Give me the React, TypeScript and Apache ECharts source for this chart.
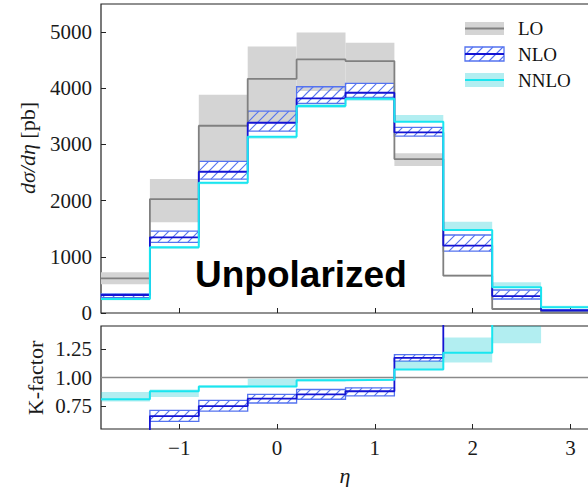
import React, { useEffect, useRef } from "react";
import * as echarts from "echarts";

// Bin edges in pseudorapidity
const binEdges = [-1.8, -1.3, -0.8, -0.3, 0.2, 0.7, 1.2, 1.7, 2.2, 2.7, 3.2];

// dσ/dη [pb] per bin: central value and scale band
const loCentral = [617, 2028, 3333, 4169, 4514, 4484, 2740, 664, 71, 12];
const loLow = [510, 1614, 2700, 3400, 3950, 4087, 2616, 650, 60, 8];
const loHigh = [724, 2384, 3885, 4745, 4994, 4810, 2842, 680, 80, 15];

const nloCentral = [320, 1347, 2514, 3386, 3820, 3920, 3215, 1200, 302, 45];
const nloLow = [275, 1258, 2384, 3238, 3731, 3838, 3149, 1103, 249, 30];
const nloHigh = [340, 1459, 2699, 3594, 4027, 4087, 3304, 1388, 409, 60];

const nnloCentral = [250, 1169, 2319, 3137, 3683, 3814, 3404, 1477, 457, 101];
const nnloLow = [225, 1140, 2290, 3100, 3650, 3780, 3404, 1477, 457, 90];
const nnloHigh = [270, 1180, 2330, 3150, 3720, 3830, 3523, 1625, 546, 130];

// K-factors: NLO/LO and NNLO/NLO
const kNloCentral = [0.49, 0.663, 0.75, 0.815, 0.853, 0.88, 1.172, 1.82, 4.3, 3.8];
const kNloLow = [0.45, 0.617, 0.707, 0.777, 0.81, 0.84, 1.143, 1.7, 3.5, 3.0];
const kNloHigh = [0.53, 0.713, 0.8, 0.853, 0.895, 0.91, 1.2, 2.0, 5.5, 5.0];

const kNnloCentral = [0.81, 0.88, 0.922, 0.922, 0.977, 0.98, 1.07, 1.216, 1.52, 1.9];
const kNnloLow = [0.79, 0.83, 0.91, 0.92, 0.965, 0.97, 1.07, 1.13, 1.3, 1.7];
const kNnloHigh = [0.874, 0.895, 0.93, 0.99, 0.99, 0.99, 1.143, 1.35, 1.62, 2.1];

// Axis ticks
const etaTicks = [-1, 0, 1, 2, 3];
const kTicks = [0.75, 1.0, 1.25];

const SERIF = "'Liberation Serif', 'DejaVu Serif', serif";
const FRAME = "#222";
const LO_LINE = "#808080";
const LO_BAND = "#d4d4d4";
const NLO_LINE = "#1414d4";
const HATCH = "#5473f0";
const NNLO_LINE = "#19e6f0";
const NNLO_BAND = "rgba(0, 200, 210, 0.3)";
const HATCH_STEP = 10;

function stepPoints(values: number[]) {
  const pts = values.map((v, i) => [binEdges[i], v]);
  pts.push([binEdges[values.length], values[values.length - 1]]);
  return pts;
}

function bandRows(low: number[], high: number[]) {
  return low.map((l, i) => [binEdges[i], binEdges[i + 1], l, high[i]]);
}

// diagonal "/" segments inside a pixel rectangle
function hatchSegments(left: number, top: number, right: number, bottom: number) {
  const segs: number[][] = [];
  const kStart = Math.ceil((left + top) / HATCH_STEP);
  const kEnd = Math.floor((right + bottom) / HATCH_STEP);
  for (let k = kStart; k <= kEnd; k++) {
    const c = k * HATCH_STEP;
    const xa = Math.max(left, c - bottom);
    const xb = Math.min(right, c - top);
    if (xb - xa > 0.5) segs.push([xa, c - xa, xb, c - xb]);
  }
  return segs;
}

function bandRenderer(hatched: boolean, fill: string) {
  return (params: any, api: any) => {
    const x0 = api.value(0);
    const x1 = api.value(1);
    const lo = api.value(2);
    const hi = api.value(3);
    const p0 = api.coord([x0, hi]);
    const p1 = api.coord([x1, lo]);
    const cs = params.coordSys;
    const left = Math.max(p0[0], cs.x);
    const right = Math.min(p1[0], cs.x + cs.width);
    const top = Math.max(p0[1], cs.y);
    const bottom = Math.min(p1[1], cs.y + cs.height);
    if (right <= left || bottom <= top) return { type: "group", children: [] };
    if (!hatched) {
      return {
        type: "rect",
        shape: { x: left, y: top, width: right - left, height: bottom - top },
        style: { fill },
      };
    }
    const children: any[] = hatchSegments(left, top, right, bottom).map((s) => ({
      type: "line",
      shape: { x1: s[0], y1: s[1], x2: s[2], y2: s[3] },
      style: { stroke: HATCH, lineWidth: 1.1 },
    }));
    children.push({
      type: "rect",
      shape: { x: left, y: top, width: right - left, height: bottom - top },
      style: { fill: "none", stroke: HATCH, lineWidth: 1.3 },
    });
    return { type: "group", children };
  };
}

function band(name: string, grid: number, low: number[], high: number[], hatched: boolean, fill: string, z: number) {
  return {
    name,
    type: "custom",
    xAxisIndex: grid,
    yAxisIndex: grid,
    z,
    silent: true,
    renderItem: bandRenderer(hatched, fill),
    encode: { x: [0, 1], y: [2, 3] },
    data: bandRows(low, high),
  };
}

function step(name: string, grid: number, values: number[], color: string, width: number, z: number) {
  return {
    name,
    type: "line",
    xAxisIndex: grid,
    yAxisIndex: grid,
    step: "end",
    symbol: "none",
    z,
    silent: true,
    clip: true,
    lineStyle: { color, width },
    data: stepPoints(values),
  };
}

function legendGraphics() {
  const sx = 465;
  const w = 39;
  const tx = 518;
  const items: any[] = [];
  // LO
  items.push({ type: "rect", shape: { x: sx, y: 22, width: w, height: 13 }, style: { fill: LO_BAND } });
  items.push({ type: "line", shape: { x1: sx, y1: 28.5, x2: sx + w, y2: 28.5 }, style: { stroke: LO_LINE, lineWidth: 1.8 } });
  // NLO
  const nt = 47;
  const nb = 61;
  hatchSegments(sx, nt, sx + w, nb).forEach((s) =>
    items.push({ type: "line", shape: { x1: s[0], y1: s[1], x2: s[2], y2: s[3] }, style: { stroke: HATCH, lineWidth: 1.1 } })
  );
  items.push({ type: "rect", shape: { x: sx, y: nt, width: w, height: nb - nt }, style: { fill: "none", stroke: HATCH, lineWidth: 1.3 } });
  items.push({ type: "line", shape: { x1: sx, y1: 54, x2: sx + w, y2: 54 }, style: { stroke: NLO_LINE, lineWidth: 1.8 } });
  // NNLO
  items.push({ type: "rect", shape: { x: sx, y: 73, width: w, height: 14 }, style: { fill: NNLO_BAND } });
  items.push({ type: "line", shape: { x1: sx, y1: 80, x2: sx + w, y2: 80 }, style: { stroke: NNLO_LINE, lineWidth: 2 } });
  const labels = [
    ["LO", 28.5],
    ["NLO", 54],
    ["NNLO", 80],
  ];
  labels.forEach(([t, y]) =>
    items.push({
      type: "text",
      x: tx,
      y: y as number,
      style: { text: t as string, font: `19px ${SERIF}`, fill: "#111", verticalAlign: "middle", align: "left" },
    })
  );
  return items;
}

function etaLabel(v: number) {
  return v < 0 ? "\u2212" + Math.abs(v) : String(v);
}

export default function App() {
  const ref = useRef<HTMLDivElement>(null);

  useEffect(() => {
    if (!ref.current) return;
    const chart = echarts.init(ref.current, undefined, { renderer: "svg" });
    const tickStyle = { show: true, inside: true, length: 5, lineStyle: { color: FRAME, width: 1 } };
    const labelStyle = { fontFamily: SERIF, fontSize: 21, color: "#1a1a1a" };
    const noLine = { show: false, onZero: false };
    const gridBase = { show: true, borderColor: FRAME, borderWidth: 1.2, backgroundColor: "transparent", containLabel: false };

    chart.setOption({
      animation: false,
      grid: [
        { ...gridBase, left: 101, top: 4, width: 489, height: 309 },
        { ...gridBase, left: 101, top: 326, width: 489, height: 103 },
      ],
      xAxis: [
        {
          type: "value",
          gridIndex: 0,
          min: -1.8,
          max: 3.2,
          axisLine: noLine,
          axisTick: { ...tickStyle, customValues: etaTicks },
          axisLabel: { show: false },
          splitLine: { show: false },
        },
        {
          type: "value",
          gridIndex: 1,
          min: -1.8,
          max: 3.2,
          axisLine: noLine,
          axisTick: { ...tickStyle, customValues: etaTicks },
          axisLabel: { ...labelStyle, margin: 8, customValues: etaTicks, formatter: etaLabel },
          splitLine: { show: false },
        },
      ],
      yAxis: [
        {
          type: "value",
          gridIndex: 0,
          min: 0,
          max: 5500,
          interval: 1000,
          axisLine: noLine,
          axisTick: tickStyle,
          axisLabel: { ...labelStyle, margin: 9, showMaxLabel: false, formatter: (v: number) => String(v) },
          splitLine: { show: false },
        },
        {
          type: "value",
          gridIndex: 1,
          min: 0.55,
          max: 1.45,
          axisLine: noLine,
          axisTick: { ...tickStyle, customValues: kTicks },
          axisLabel: { ...labelStyle, margin: 9, customValues: kTicks, formatter: (v: number) => v.toFixed(2) },
          splitLine: { show: false },
        },
      ],
      series: [
        band("LO band", 0, loLow, loHigh, false, LO_BAND, 1),
        band("NLO band", 0, nloLow, nloHigh, true, "", 2),
        band("NNLO band", 0, nnloLow, nnloHigh, false, NNLO_BAND, 3),
        step("LO", 0, loCentral, LO_LINE, 1.8, 4),
        step("NLO", 0, nloCentral, NLO_LINE, 1.8, 5),
        step("NNLO", 0, nnloCentral, NNLO_LINE, 2, 6),
        {
          name: "unity",
          type: "line",
          xAxisIndex: 1,
          yAxisIndex: 1,
          symbol: "none",
          silent: true,
          z: 1,
          lineStyle: { color: "#8a8a8a", width: 1.3 },
          data: [
            [binEdges[0], 1],
            [binEdges[binEdges.length - 1], 1],
          ],
        },
        band("K NLO band", 1, kNloLow, kNloHigh, true, "", 2),
        band("K NNLO band", 1, kNnloLow, kNnloHigh, false, NNLO_BAND, 3),
        step("K NLO", 1, kNloCentral, NLO_LINE, 1.8, 5),
        step("K NNLO", 1, kNnloCentral, NNLO_LINE, 2, 6),
      ],
      graphic: [
        ...legendGraphics(),
        {
          type: "text",
          x: 195,
          y: 274,
          style: {
            text: "Unpolarized",
            font: "bold 37px 'Liberation Sans', Arial, sans-serif",
            fill: "#000",
            verticalAlign: "middle",
            align: "left",
          },
        },
        {
          type: "text",
          x: 27,
          y: 148,
          rotation: Math.PI / 2,
          style: {
            text: "{i|d\u03c3/d\u03b7} [pb]",
            align: "center",
            verticalAlign: "middle",
            rich: {
              i: { fontFamily: SERIF, fontStyle: "italic", fontSize: 22, fill: "#1a1a1a" },
            },
            font: `22px ${SERIF}`,
            fill: "#1a1a1a",
          },
        },
        {
          type: "text",
          x: 35,
          y: 378,
          rotation: Math.PI / 2,
          style: {
            text: "K-factor",
            font: `22px ${SERIF}`,
            fill: "#1a1a1a",
            align: "center",
            verticalAlign: "middle",
          },
        },
        {
          type: "text",
          x: 345,
          y: 475,
          style: {
            text: "\u03b7",
            font: `italic 22px ${SERIF}`,
            fill: "#1a1a1a",
            align: "center",
            verticalAlign: "middle",
          },
        },
      ],
    });
    return () => chart.dispose();
  }, []);

  return (
    <div style={{ position: "fixed", left: 0, top: 0, width: 588, height: 487, overflow: "hidden", background: "#fff" }}>
      <div ref={ref} style={{ width: 600, height: 487 }} />
    </div>
  );
}
